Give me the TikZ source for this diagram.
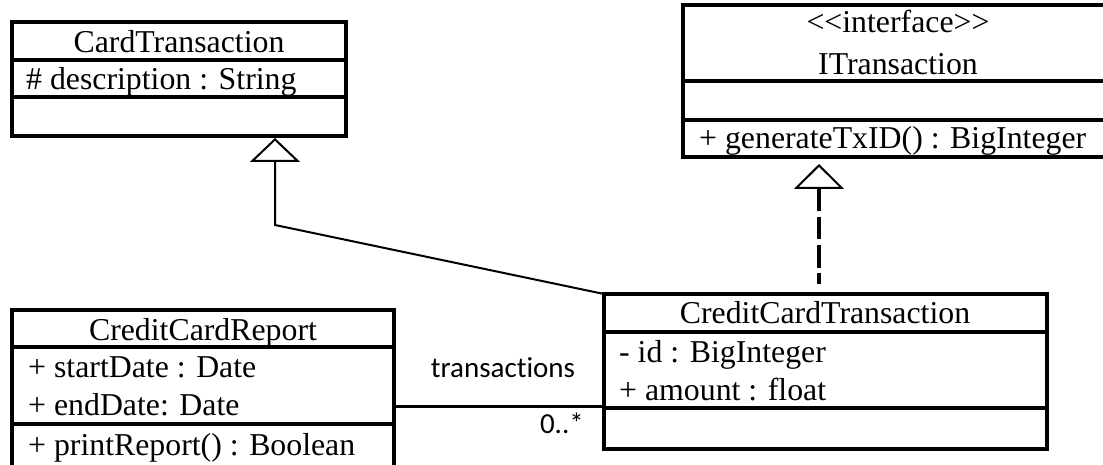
\documentclass[tikz,border=0pt]{standalone}
\usepackage{fontspec}
\setmainfont{Liberation Serif}
\newfontfamily\labelfont[Ligatures=NoCommon]{Carlito}
\usetikzlibrary{arrows.meta}

\begin{document}
\begin{tikzpicture}[x=1pt,y=-1pt,
  classbox/.style={draw, line width=3.4pt, rectangle, inner sep=0pt, outer sep=0pt, anchor=north west},
  divider/.style={line width=3.4pt},
  member/.style={anchor=base west, inner sep=0pt, font=\fontsize{31.8}{38}\selectfont},
  classname/.style={anchor=base, inner sep=0pt, font=\fontsize{31.8}{38}\selectfont},
  link/.style={line width=2pt},
  assoc/.style={line width=3pt},
  assoclabel/.style={inner sep=0pt, font=\labelfont\fontsize{29}{34}\selectfont},
  hollowtip/.style={-{Triangle[open, length=24pt, width=50pt, line width=2pt]}}
]
\path[use as bounding box, fill=white] (0,0) rectangle (1103,465);
\clip (0,0) rectangle (1103,465);

% CardTransaction
\node[classbox, minimum width=334pt, minimum height=114pt] (ct) at (12,22) {};
\coordinate (ct-d1) at (12,60);
\coordinate (ct-d2) at (12,97);
\draw[divider] (ct-d1) -- (ct-d1 -| ct.east);
\draw[divider] (ct-d2) -- (ct-d2 -| ct.east);
\node[classname] (ct-name) at (179,53) {CardTransaction};
\node[member] (ct-a1) at (26,90) {\# description : String};

% ITransaction
\node[classbox, minimum width=429pt, minimum height=152pt] (it) at (683,5) {};
\coordinate (it-d1) at (683,81);
\coordinate (it-d2) at (683,120);
\draw[divider] (it-d1) -- (it-d1 -| it.east);
\draw[divider] (it-d2) -- (it-d2 -| it.east);
\node[classname] (it-stereo) at (898,33) {<\kern0pt<interface>\kern0pt>};
\node[classname] (it-name) at (898,75) {ITransaction};
\node[member] (it-o1) at (699,149) {+ generateTxID() : BigInteger};

% CreditCardTransaction
\node[classbox, minimum width=443pt, minimum height=155pt] (cct) at (604,294) {};
\coordinate (cct-d1) at (604,332);
\coordinate (cct-d2) at (604,408);
\draw[divider] (cct-d1) -- (cct-d1 -| cct.east);
\draw[divider] (cct-d2) -- (cct-d2 -| cct.east);
\node[classname] (cct-name) at (825,323) {CreditCardTransaction};
\node[member] (cct-a1) at (619,362) {- id : BigInteger};
\node[member] (cct-a2) at (619,400) {+ amount : float};

% CreditCardReport
\node[classbox, minimum width=382pt, minimum height=165pt] (ccr) at (12,310) {};
\coordinate (ccr-d1) at (12,347);
\coordinate (ccr-d2) at (12,424);
\draw[divider] (ccr-d1) -- (ccr-d1 -| ccr.east);
\draw[divider] (ccr-d2) -- (ccr-d2 -| ccr.east);
\node[classname] (ccr-name) at (203,340) {CreditCardReport};
\node[member] (ccr-a1) at (28,377) {+ startDate : Date};
\node[member] (ccr-a2) at (28,415) {+ endDate: Date};
\node[member] (ccr-o1) at (28,455) {+ printReport() : Boolean};

% generalization: CreditCardTransaction -> CardTransaction
\coordinate (genbend) at (275,225);
\draw[link, hollowtip, shorten >=2pt] (cct.north west) -- (genbend) -- (genbend |- ct.south);

% realization: CreditCardTransaction -> ITransaction
\coordinate (realstart) at (819,284);
\coordinate (realtip) at (819,164);
\draw[line width=4pt, dash pattern=on 22.5pt off 5.5pt, dash phase=11.5pt,
      -{Triangle[open, length=25pt, width=50pt, line width=2pt]}] (realstart) -- (realtip);

% association: CreditCardReport -> CreditCardTransaction
\coordinate (assocend) at (604,406);
\draw[assoc] (ccr.east |- assocend) -- (assocend);
\node[assoclabel, anchor=base] (rolename) at (503,377) {transactions};
\node[assoclabel, anchor=base east] (mult) at (584,433) {0..*};
\end{tikzpicture}
\end{document}
